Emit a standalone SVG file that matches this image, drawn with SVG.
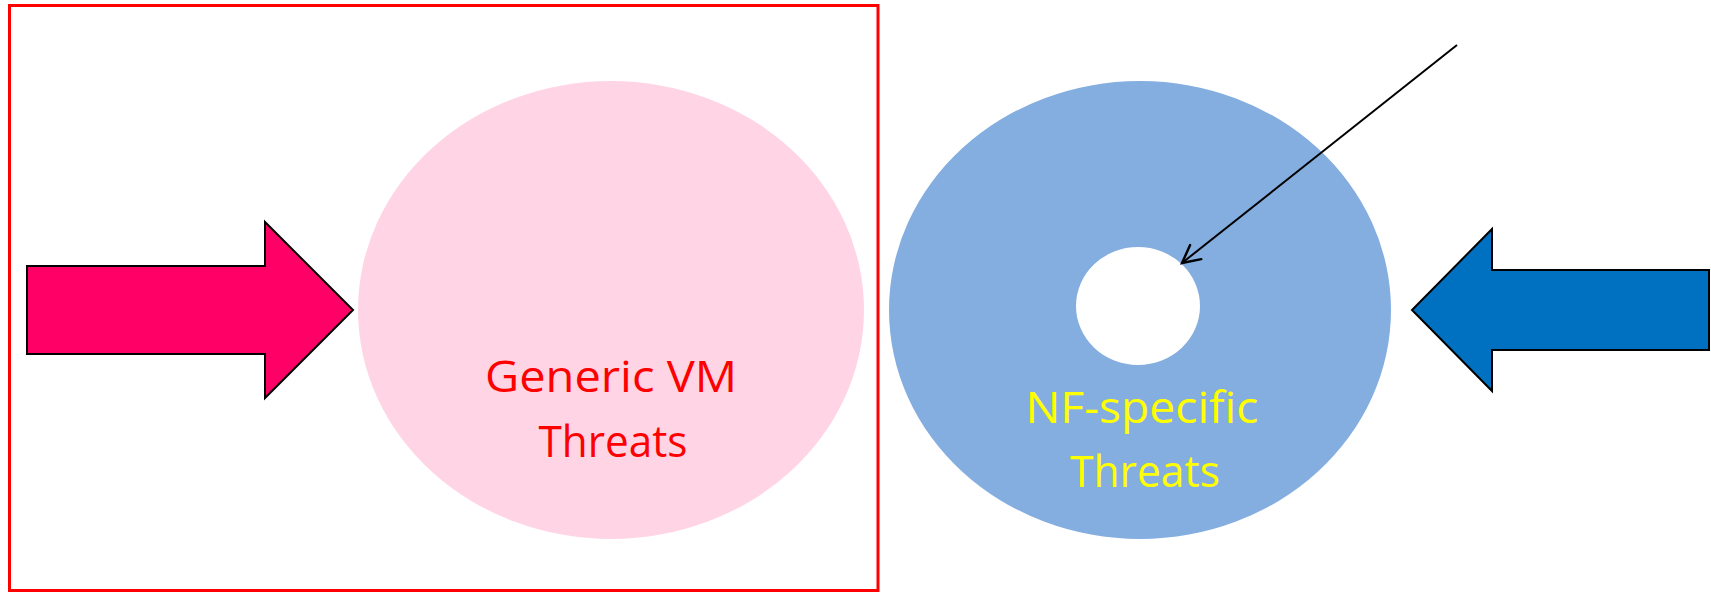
<svg xmlns="http://www.w3.org/2000/svg" width="1711" height="592" viewBox="0 0 1711 592">
<style>
.lbl{font-family:"Open Sans","Liberation Sans",sans-serif;font-size:43px;text-anchor:middle}
.blk{stroke:#000;stroke-width:2;stroke-linejoin:miter}
</style>
<defs>
<marker id="open" markerWidth="22" markerHeight="22" refX="19" refY="10.5" orient="auto" markerUnits="userSpaceOnUse">
<path d="M1.5,1.5 L19,10.5 L1.5,19.5" fill="none" stroke="#000" stroke-width="2.4" stroke-linecap="round"/>
</marker>
</defs>
<rect width="1711" height="592" fill="#fff"/>
<g id="boundary">
<rect x="9.5" y="5.5" width="868.5" height="585" fill="none" stroke="#ff0000" stroke-width="3"/>
</g>
<g id="generic-vm">
<ellipse cx="611" cy="310" rx="253" ry="229" fill="#FFD5E5"/>
<text class="lbl" fill="#ff0000" x="611" y="392" textLength="252" lengthAdjust="spacingAndGlyphs">Generic VM</text>
<text class="lbl" fill="#ff0000" x="613" y="457" textLength="149" lengthAdjust="spacingAndGlyphs">Threats</text>
</g>
<g id="nf-specific">
<path fill="#84ADE0" fill-rule="evenodd" d="M889,310 a251,229 0 1,0 502,0 a251,229 0 1,0 -502,0 Z M1076,306 a62,59 0 1,0 124,0 a62,59 0 1,0 -124,0 Z"/>
<text class="lbl" fill="#ffff00" x="1142" y="423" textLength="233" lengthAdjust="spacingAndGlyphs">NF-specific</text>
<text class="lbl" fill="#ffff00" x="1145" y="487" textLength="150" lengthAdjust="spacingAndGlyphs">Threats</text>
</g>
<g id="left-arrow">
<polygon class="blk" fill="#FF0066" points="27,266 265,266 265,222 353,310 265,398 265,354 27,354"/>
</g>
<g id="right-arrow">
<polygon class="blk" fill="#0070C0" points="1709,270 1492,270 1492,229 1412,310 1492,391 1492,350 1709,350"/>
</g>
<g id="connectors">
<line x1="1457" y1="45" x2="1182" y2="263" stroke="#000" stroke-width="2" marker-end="url(#open)"/>
</g>
</svg>
